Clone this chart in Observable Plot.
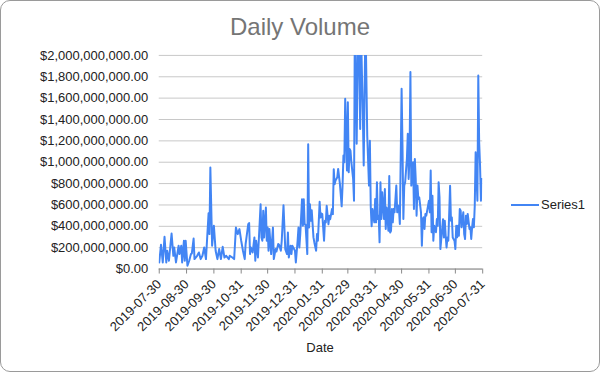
<!DOCTYPE html>
<html>
<head>
<meta charset="utf-8">
<script src="https://cdn.jsdelivr.net/npm/d3@7"></script>
<script src="https://cdn.jsdelivr.net/npm/@observablehq/plot@0.6"></script>
<style>
  html, body { margin: 0; padding: 0; background: #fff; }
  #chart {
    position: relative; width: 600px; height: 372px; box-sizing: border-box;
    border: 1px solid #9a9a9a; border-radius: 10px; overflow: hidden; background: #fff;
    font-family: "Liberation Sans", Arial, sans-serif;
  }
  #plot { position: absolute; left: -1px; top: -1px; }
  #title {
    position: absolute; left: 0; top: 12px; width: 598px; text-align: center;
    font-size: 24px; line-height: 28px; color: #757575;
  }
  #xlabel {
    position: absolute; left: 157px; top: 339px; width: 324px; text-align: center;
    font-size: 13px; line-height: 16px; color: #222;
  }
  #legend {
    position: absolute; left: 510px; top: 196px; font-size: 13px; line-height: 16px; color: #222;
    display: flex; align-items: center;
  }
  #legend .sw { width: 28px; height: 2px; background: #4285F4; margin-right: 2px; }
</style>
</head>
<body>
<div id="chart">
  <div id="plot"></div>
  <div id="title">Daily Volume</div>
  <div id="xlabel">Date</div>
  <div id="legend"><span class="sw"></span><span>Series1</span></div>
</div>
<script>
// Dates of readings
const dates = [
"2019-07-30","2019-08-01","2019-08-03","2019-08-05","2019-08-07","2019-08-08","2019-08-10","2019-08-13","2019-08-15","2019-08-16",
"2019-08-18","2019-08-21","2019-08-22","2019-08-24","2019-08-25","2019-08-27","2019-08-28","2019-08-29","2019-08-31","2019-09-02",
"2019-09-04","2019-09-05","2019-09-07","2019-09-08","2019-09-11","2019-09-13","2019-09-15","2019-09-17","2019-09-19","2019-09-21",
"2019-09-24","2019-09-25","2019-09-26","2019-09-28","2019-09-30","2019-10-02","2019-10-04","2019-10-06","2019-10-08","2019-10-10",
"2019-10-12","2019-10-14","2019-10-17","2019-10-18","2019-10-21","2019-10-23","2019-10-25","2019-10-27","2019-10-29","2019-10-31",
"2019-11-02","2019-11-04","2019-11-05","2019-11-08","2019-11-09","2019-11-10","2019-11-11","2019-11-13","2019-11-15","2019-11-16",
"2019-11-17","2019-11-19","2019-11-22","2019-11-23","2019-11-24","2019-11-25","2019-11-26","2019-11-28","2019-11-29","2019-11-30",
"2019-12-01","2019-12-02","2019-12-04","2019-12-06","2019-12-07","2019-12-09","2019-12-10","2019-12-12","2019-12-13","2019-12-15",
"2019-12-16","2019-12-18","2019-12-20","2019-12-22","2019-12-23","2019-12-24","2019-12-26","2019-12-27","2019-12-28","2019-12-30",
"2019-12-31","2020-01-01","2020-01-03","2020-01-04","2020-01-05","2020-01-06","2020-01-08","2020-01-09","2020-01-10","2020-01-11",
"2020-01-12","2020-01-14","2020-01-15","2020-01-16","2020-01-17","2020-01-18","2020-01-19","2020-01-21","2020-01-22","2020-01-24",
"2020-01-25","2020-01-26","2020-01-28","2020-01-29","2020-01-30","2020-01-31","2020-02-02","2020-02-03","2020-02-04","2020-02-05",
"2020-02-07","2020-02-08","2020-02-09","2020-02-11","2020-02-12","2020-02-13","2020-02-14","2020-02-15","2020-02-17","2020-02-18",
"2020-02-20","2020-02-22","2020-02-23","2020-02-24","2020-02-25","2020-02-26","2020-02-28","2020-02-29","2020-03-01","2020-03-02",
"2020-03-03","2020-03-04","2020-03-06","2020-03-07","2020-03-08","2020-03-10","2020-03-12","2020-03-14","2020-03-15","2020-03-17",
"2020-03-18","2020-03-20","2020-03-22","2020-03-24","2020-03-25","2020-03-26","2020-03-27","2020-03-28","2020-03-30","2020-03-31",
"2020-04-01","2020-04-02","2020-04-03","2020-04-04","2020-04-05","2020-04-06","2020-04-07","2020-04-08","2020-04-10","2020-04-11",
"2020-04-12","2020-04-13","2020-04-14","2020-04-15","2020-04-16","2020-04-17","2020-04-18","2020-04-19","2020-04-20","2020-04-21",
"2020-04-22","2020-04-24","2020-04-25","2020-04-26","2020-04-27","2020-04-28","2020-04-30","2020-05-01","2020-05-02","2020-05-03",
"2020-05-04","2020-05-06","2020-05-07","2020-05-08","2020-05-09","2020-05-10","2020-05-11","2020-05-13","2020-05-14","2020-05-15",
"2020-05-16","2020-05-17","2020-05-18","2020-05-19","2020-05-20","2020-05-22","2020-05-23","2020-05-24","2020-05-25","2020-05-26",
"2020-05-27","2020-05-28","2020-05-30","2020-05-31","2020-06-01","2020-06-02","2020-06-03","2020-06-04","2020-06-05","2020-06-06",
"2020-06-08","2020-06-09","2020-06-10","2020-06-11","2020-06-12","2020-06-13","2020-06-16","2020-06-17","2020-06-18","2020-06-19",
"2020-06-20","2020-06-21","2020-06-22","2020-06-24","2020-06-25","2020-06-26","2020-06-27","2020-06-29","2020-06-30","2020-07-01",
"2020-07-02","2020-07-03","2020-07-04","2020-07-05","2020-07-06","2020-07-07","2020-07-09","2020-07-10","2020-07-11","2020-07-12",
"2020-07-13","2020-07-14","2020-07-16","2020-07-17","2020-07-18","2020-07-19","2020-07-20","2020-07-21","2020-07-22","2020-07-23",
"2020-07-25","2020-07-26","2020-07-27","2020-07-28","2020-07-29","2020-07-30","2020-07-31"
];
// Daily volume, millions of dollars
const volumeMillions = [
62,227,62,302,62,171,78,333,124,202,
62,218,140,218,62,265,78,265,31,78,
140,146,286,93,124,155,93,124,202,93,
523,327,950,218,405,171,93,187,93,208,
108,124,93,124,108,93,389,327,374,265,
171,93,234,420,430,140,202,155,296,78,
265,108,607,296,265,545,296,576,265,389,
171,374,140,389,93,187,164,234,227,171,
265,598,187,140,342,108,218,140,218,187,
171,62,265,389,202,327,654,405,654,420,
415,140,1168,389,607,451,551,296,249,171,
327,265,629,482,520,514,265,451,436,592,
420,498,467,561,514,935,794,828,859,937,
797,587,781,1062,1000,1594,922,1562,906,1125,
1109,1000,844,640,2450,1172,2550,1312,2200,1450,
969,2350,1250,781,1200,578,400,562,437,656,
437,812,468,500,250,812,469,719,469,750,
375,576,482,358,872,342,359,562,437,562,
531,781,531,594,562,422,1687,1156,469,781,
812,1031,1266,844,1062,1844,781,1000,562,1031,
844,500,781,656,672,531,219,469,484,375,
516,500,594,640,531,922,344,687,265,406,
344,469,406,812,672,187,467,296,452,312,
202,296,265,779,452,483,296,265,187,406,
297,406,312,562,547,391,531,328,281,500,
422,516,375,391,281,391,469,391,594,1094,
640,1812,1187,969,640,844,844
];
const xTickLabels = ["2019-07-30","2019-08-30","2019-09-30","2019-10-31","2019-11-30","2019-12-31",
  "2020-01-31","2020-02-29","2020-03-31","2020-04-30","2020-05-31","2020-06-30","2020-07-31"];
const yTickValues = [0, 200e6, 400e6, 600e6, 800e6, 1000e6, 1200e6, 1400e6, 1600e6, 1800e6, 2000e6];

const parse = d3.utcParse("%Y-%m-%d");
const data = dates.map((d, i) => ({date: parse(d), value: volumeMillions[i] * 1e6}));
const xTicks = xTickLabels.map(parse);

const chart = Plot.plot({
  width: 600,
  height: 372,
  marginLeft: 159,
  marginRight: 117,
  marginTop: 55,
  marginBottom: 103,
  style: {fontFamily: "'Liberation Sans', Arial, sans-serif", fontSize: "13px", color: "#222", background: "transparent", overflow: "visible"},
  x: {type: "utc", domain: [xTicks[0], xTicks[xTicks.length - 1]]},
  y: {domain: [0, 2e9]},
  marks: [
    Plot.gridY(yTickValues, {stroke: "#c8c8c8", strokeOpacity: 1}),
    Plot.axisY(yTickValues, {tickFormat: d3.format("$,.2f"), tickSize: 0, tickPadding: 11, fontSize: 13, label: null}),
    Plot.line(data, {x: "date", y: "value", stroke: "#4285F4", strokeWidth: 2, clip: true, strokeLinejoin: "round"}),
    Plot.ruleY([0], {stroke: "#8a8a8a"}),
    // tick marks
    Plot.axisX(xTicks, {tickSize: 5, text: null, stroke: "#8a8a8a", label: null}),
    // rotated tick labels
    Plot.axisX(xTicks, {tickSize: 0, tickPadding: 13, tickRotate: -45,
      tickFormat: d3.utcFormat("%Y-%m-%d"), fontSize: 13, label: null})
  ]
});
document.getElementById("plot").appendChild(chart);
</script>
</body>
</html>
